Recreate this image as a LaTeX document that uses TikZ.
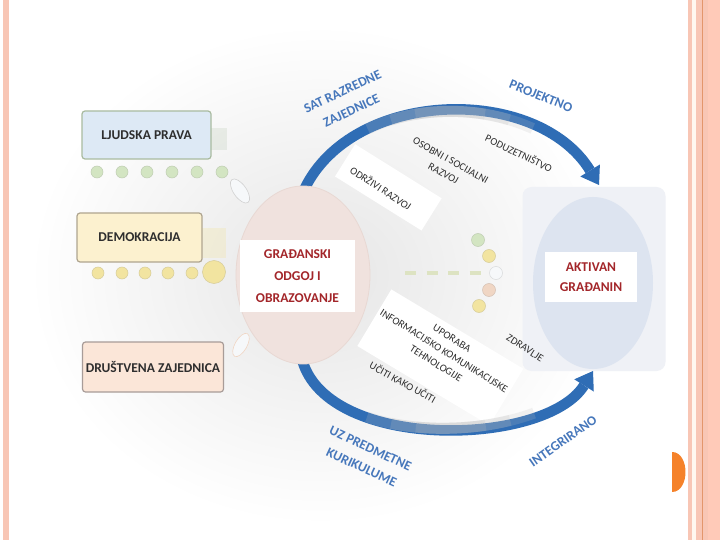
\documentclass[tikz,border=0pt]{standalone}
\usepackage{fontspec}
\setmainfont{Carlito}
\usetikzlibrary{arrows.meta}

\definecolor{arcblue}{HTML}{2F6DB5}
\definecolor{labelblue}{HTML}{4677BB}
\definecolor{labelred}{HTML}{A3262A}
\definecolor{inkgray}{HTML}{2E2E2E}
\definecolor{edgegreen}{HTML}{A9BBA0}
\definecolor{edgesand}{HTML}{AFA590}
\definecolor{edgerose}{HTML}{A89C98}
\definecolor{fillsky}{HTML}{DDE9F5}
\definecolor{fillcorn}{HTML}{FCF1CF}
\definecolor{fillpeach}{HTML}{FBE6D8}
\definecolor{beadgreen}{HTML}{D3E5C2}
\definecolor{beadyellow}{HTML}{F2E4A0}
\definecolor{beadpeach}{HTML}{F0D6C4}
\definecolor{beadwhite}{HTML}{F6F8FA}
\definecolor{civicpink}{HTML}{F0E2DE}
\definecolor{civicrim}{HTML}{E8D8D3}
\definecolor{goalpanel}{HTML}{EFF1F6}
\definecolor{goalglobe}{HTML}{DDE4F0}
\definecolor{dashtint}{HTML}{DDE3C2}
\definecolor{bandpeach}{HTML}{F8C6B5}
\definecolor{bandcream}{HTML}{FFF7EF}
\definecolor{bandline}{HTML}{E3966C}
\definecolor{bandpale}{HTML}{FFCAB8}
\definecolor{slidedot}{HTML}{F5822A}

\begin{document}
\begin{tikzpicture}[x=1pt,y=-1pt]

    \tikzset{
      topicbox/.style 2 args={
        draw=#1,
        fill=#2,
        rounded corners=3pt,
        line width=1.2pt,
        font=\fontsize{13.5}{15}\selectfont\bfseries,
        text=inkgray,
      },
      bead/.style={
        circle,
        inner sep=0pt,
        minimum size=12pt,
        line width=0.5pt,
        fill=#1,
        draw=#1!75!gray,
      },
      arcline/.style={
        color=arcblue,
        line width=10.5pt,
        -{Triangle[width=23pt,length=17pt,line width=0pt]},
      },
      glare/.style={
        color=black!25,
        line width=11pt,
        opacity=0.2,
      },
      arctext/.style={
        text=labelblue,
        font=\fontsize{13.5}{21}\selectfont\bfseries,
        align=center,
      },
      themetext/.style={
        text=inkgray,
        font=\fontsize{10.5}{15}\selectfont,
        align=center,
      },
      titlebox/.style={
        fill=white,
        text=labelred,
        font=\fontsize{13.5}{22}\selectfont\bfseries,
        align=center,
      },
    }
    \useasboundingbox (0,0) rectangle (720,540);

	% soft glow
	\fill[white] (0,0) rectangle (720,540);
	\shade[inner color=black!10, outer color=white] (320,275) ellipse [x radius=290, y radius=250];
	\fill[white, rotate around={-32:(388,186)}] (338,168) rectangle (440,206);
	\fill[white, rotate around={-31:(440,356)}] (364,324) rectangle (518,390);

	% topics on the left
	\fill[color=edgegreen, opacity=0.2] (211,128) rectangle (227,150);
	\fill[color=beadyellow, opacity=0.3] (202,228) rectangle (226,258);
	\node[topicbox={edgegreen}{fillsky}, minimum width=129pt, minimum height=48pt] (rights) at (146.5,135) {LJUDSKA PRAVA};
	\node[topicbox={edgesand}{fillcorn}, minimum width=125pt, minimum height=49pt] (democracy) at (139.5,237.5) {DEMOKRACIJA};
	\node[topicbox={edgerose}{fillpeach}, minimum width=140pt, minimum height=50pt] (community) at (153,367) {DRUŠTVENA ZAJEDNICA};

	\node[bead=beadgreen] (g1) at (97,172) {};
	\node[bead=beadgreen] (g2) at (122,172) {};
	\node[bead=beadgreen] (g3) at (147,172) {};
	\node[bead=beadgreen] (g4) at (172,172) {};
	\node[bead=beadgreen] (g5) at (197,172) {};
	\node[bead=beadgreen] (g6) at (222,172) {};
	\draw[color=black!18, fill=beadwhite, line width=0.6pt, rotate around={-55:(240,191)}] (240,191) ellipse [x radius=14, y radius=6.5];

	\node[bead=beadyellow] (y1) at (98,273) {};
	\node[bead=beadyellow] (y2) at (122,273) {};
	\node[bead=beadyellow] (y3) at (145,273) {};
	\node[bead=beadyellow] (y4) at (168,273) {};
	\node[bead=beadyellow] (y5) at (192,273) {};
	\node[bead=beadyellow, minimum size=23pt] (y6) at (214,272) {};

	\draw[color=beadpeach, fill=beadwhite, line width=0.6pt, rotate around={60:(241,345)}] (241,345) ellipse [x radius=13, y radius=6];

	% goal on the right
	\node[fill=goalpanel, rounded corners=9pt, minimum width=143pt, minimum height=184pt] (panel) at (594,279) {};
	\fill[color=goalglobe] (593,283) ellipse [x radius=60, y radius=86];
	\node[titlebox, minimum width=92pt, minimum height=50pt, font=\fontsize{13.5}{20}\selectfont\bfseries] (citizen) at (591,277) {AKTIVAN\\GRAĐANIN};

	% the two arcs
	\coordinate (topL) at (304,190);
	\coordinate (topR) at (599,185);
	\coordinate (botL) at (301,355);
	\coordinate (botR) at (593,371);
	\draw[arcline] (topL) .. controls (352,88) and (537,84) .. (topR);
	\draw[glare, dash pattern=on 0pt off 90pt on 170pt off 1000pt] (topL) .. controls (352,88) and (537,84) .. (topR);
	\draw[glare, dash pattern=on 0pt off 115pt on 120pt off 1000pt] (topL) .. controls (352,88) and (537,84) .. (topR);
	\draw[glare, dash pattern=on 0pt off 140pt on 70pt off 1000pt] (topL) .. controls (352,88) and (537,84) .. (topR);
	\draw[arcline] (botL) .. controls (320,452) and (545,448) .. (botR);
	\draw[glare, dash pattern=on 0pt off 95pt on 170pt off 1000pt] (botL) .. controls (320,452) and (545,448) .. (botR);
	\draw[glare, dash pattern=on 0pt off 120pt on 120pt off 1000pt] (botL) .. controls (320,452) and (545,448) .. (botR);
	\draw[glare, dash pattern=on 0pt off 145pt on 70pt off 1000pt] (botL) .. controls (320,452) and (545,448) .. (botR);

	% civic education in the middle
	\draw[color=civicrim, fill=civicpink, line width=0.8pt] (303,275) ellipse [x radius=67, y radius=89];
	\node[titlebox, minimum width=115pt, minimum height=72pt] (civic) at (297.5,276) {GRAĐANSKI\\ODGOJ I\\OBRAZOVANJE};

	% dashes and beads towards the goal
	\coordinate (dashL) at (405,273);
	\coordinate (dashR) at (482,273);
	\draw[color=dashtint, line width=4pt, dash pattern=on 11pt off 10.5pt] (dashL) -- (dashR);
	\node[bead=beadgreen, minimum size=13pt] (r1) at (478,240) {};
	\node[bead=beadyellow, minimum size=13pt] (r2) at (489,256) {};
	\node[bead=beadwhite, minimum size=13pt] (r3) at (496,273) {};
	\node[bead=beadpeach, minimum size=13pt] (r4) at (489,290) {};
	\node[bead=beadyellow, minimum size=13pt] (r5) at (479,306) {};

	% labels
	\node[arctext, rotate=25] (classhour) at (347,101) {SAT RAZREDNE\\ZAJEDNICE};
	\node[arctext, rotate=-22] (project) at (541,96) {PROJEKTNO};
	\node[arctext, rotate=-25] (subjects) at (366,458) {UZ PREDMETNE\\KURIKULUME};
	\node[arctext, rotate=35] (integrated) at (563,441) {INTEGRIRANO};

	\node[themetext, rotate=-33] (sustain) at (381,188) {ODRŽIVI RAZVOJ};
	\node[themetext, rotate=-29] (personal) at (447,167) {OSOBNI I SOCIJALNI\\RAZVOJ};
	\node[themetext, rotate=-26] (enterprise) at (519,153) {PODUZETNIŠTVO};
	\node[themetext, rotate=-32] (ict) at (444,351) {UPORABA\\INFORMACIJSKO KOMUNIKACIJSKE\\TEHNOLOGIJE};
	\node[themetext, rotate=-29] (learning) at (403,382) {UČITI KAKO UČITI};
	\node[themetext, rotate=-33] (health) at (525,348) {ZDRAVLJE};

	% slide frame
	\fill[color=bandpeach] (3,0) rectangle (8.5,540);
	\fill[color=bandpeach] (688,0) rectangle (692,540);
	\fill[color=bandcream] (692,0) rectangle (696,540);
	\fill[color=bandpeach] (696,0) rectangle (702,540);
	\fill[color=bandline] (702,0) rectangle (703.3,540);
	\fill[color=bandpeach] (703.3,0) rectangle (708,540);
	\fill[color=bandpale] (708,0) rectangle (720,540);
	\fill[color=slidedot] (672,452) .. controls (690,452) and (690,492) .. (672,492) -- cycle;

\end{tikzpicture}
\end{document}
